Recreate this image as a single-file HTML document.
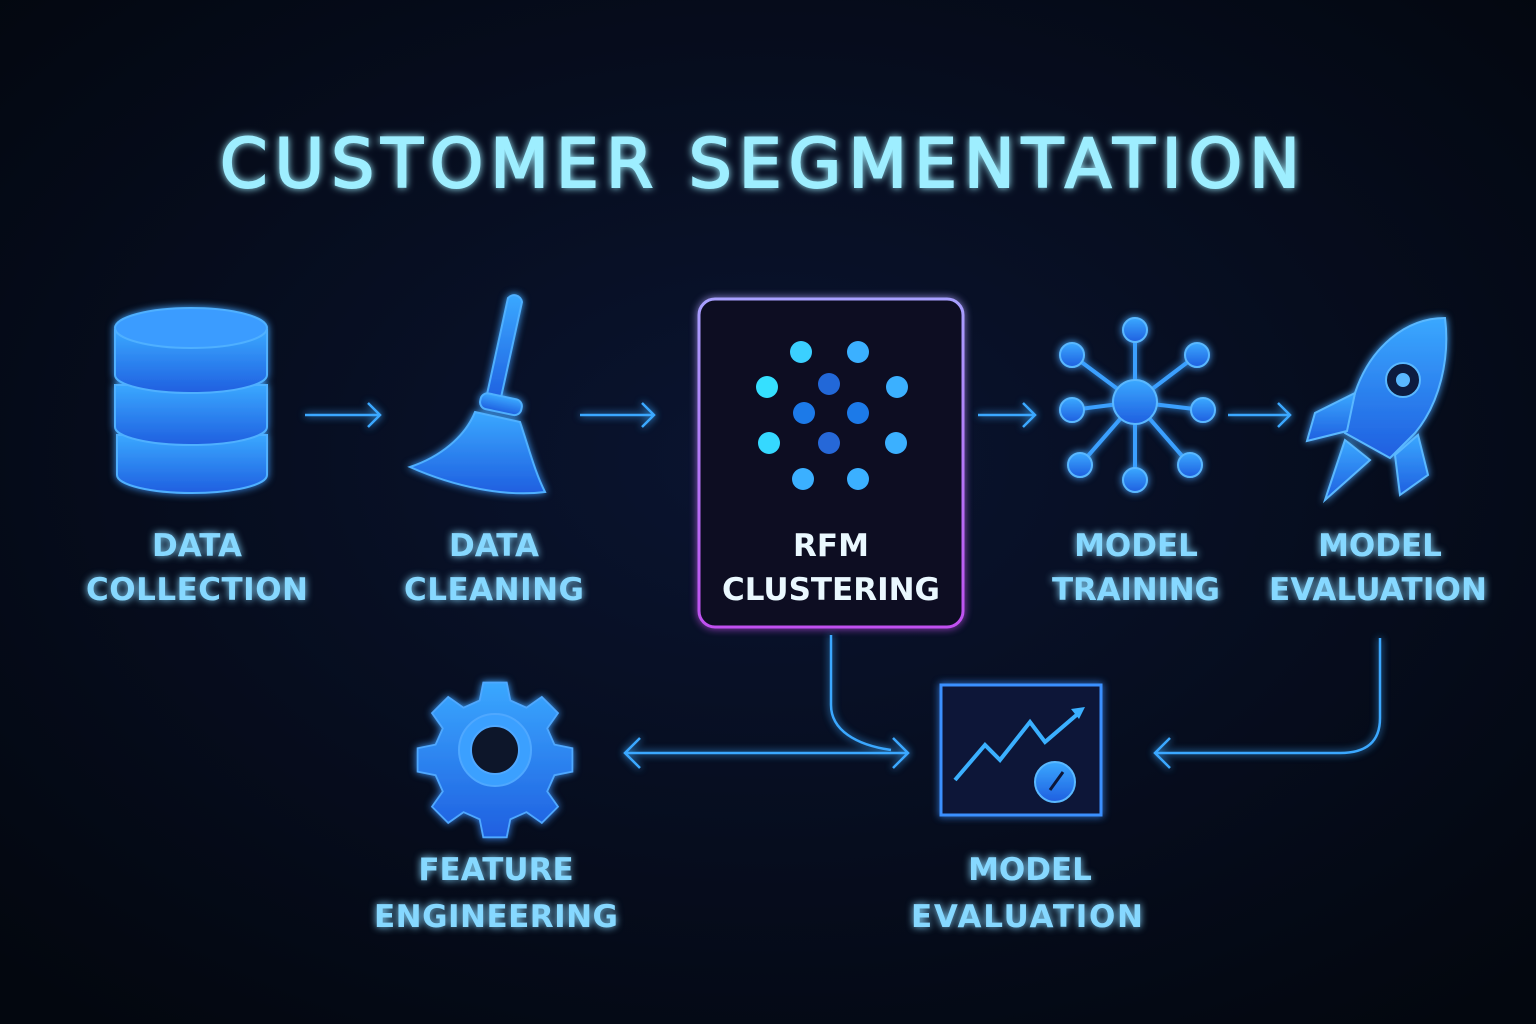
<!DOCTYPE html>
<html><head><meta charset="utf-8"><style>
html,body{margin:0;padding:0;background:#050a18;}
svg{display:block}
text{font-family:"DejaVu Sans","Liberation Sans",sans-serif;font-weight:bold;text-anchor:middle}
</style></head><body>
<svg width="1536" height="1024" viewBox="0 0 1536 1024" xmlns="http://www.w3.org/2000/svg">
<defs>
<radialGradient id="bg" cx="50%" cy="45%" r="70%"><stop offset="0" stop-color="#0a1430"/><stop offset="1" stop-color="#03070f"/></radialGradient>
<filter id="glow" x="-30%" y="-30%" width="160%" height="160%"><feGaussianBlur stdDeviation="4" result="b"/><feMerge><feMergeNode in="b"/><feMergeNode in="SourceGraphic"/></feMerge></filter>
<linearGradient id="box" x1="0" y1="0" x2="0" y2="1"><stop offset="0" stop-color="#a8a0ff"/><stop offset="1" stop-color="#c050f0"/></linearGradient>
<linearGradient id="ic" x1="0" y1="0" x2="0" y2="1"><stop offset="0" stop-color="#3aa8ff"/><stop offset="1" stop-color="#1f5fe0"/></linearGradient>
</defs>
<rect width="1536" height="1024" fill="url(#bg)"/>
<text x="760" y="187" font-size="68" fill="#9eeeff" textLength="1080" lengthAdjust="spacing" filter="url(#glow)" style="font-weight:normal" stroke="#9eeeff" stroke-width="2">CUSTOMER SEGMENTATION</text>

<g filter="url(#glow)">
<!-- database -->
<g fill="url(#ic)" stroke="#4fb0ff" stroke-width="2">
<path d="M117 435 v40 a75 18 0 0 0 150 0 v-40 z"/>
<path d="M115 385 v42 a76 18 0 0 0 152 0 v-42 z"/>
<path d="M115 330 v45 a76 18 0 0 0 152 0 v-45 z"/>
<ellipse cx="191" cy="328" rx="76" ry="20" fill="#3b9cff"/>
</g>
<!-- broom -->
<g fill="url(#ic)" stroke="#4fb0ff" stroke-width="2">
<path d="M508 298 a8 8 0 0 1 14 4 l-22 100 -14 -3 z"/>
<rect x="480" y="396" width="42" height="16" rx="7" transform="rotate(12 500 404)"/>
<path d="M475 412 l45 10 c10 30 15 50 25 70 c-40 5 -90 -5 -135 -25 c30 -10 55 -30 65 -55z"/>
</g>
<!-- RFM box -->
<rect x="699" y="299" width="264" height="328" rx="16" fill="#0c0a24" stroke="url(#box)" stroke-width="3"/>
<g fill="#3bb0ff">
<circle cx="801" cy="352" r="11" fill="#3ad0ff"/><circle cx="858" cy="352" r="11"/>
<circle cx="767" cy="387" r="11" fill="#35e0ff"/><circle cx="829" cy="384" r="11" fill="#2468d8"/><circle cx="897" cy="387" r="11"/>
<circle cx="804" cy="413" r="11" fill="#1e7ae8"/><circle cx="858" cy="413" r="11" fill="#1e7ae8"/>
<circle cx="769" cy="443" r="11" fill="#35d8ff"/><circle cx="829" cy="443" r="11" fill="#2868d8"/><circle cx="896" cy="443" r="11"/>
<circle cx="803" cy="479" r="11"/><circle cx="858" cy="479" r="11"/>
</g>
<!-- network -->
<g stroke="#3aa0ff" stroke-width="4">
<line x1="1135" y1="402" x2="1135" y2="332"/><line x1="1135" y1="402" x2="1072" y2="355"/><line x1="1135" y1="402" x2="1197" y2="355"/>
<line x1="1135" y1="402" x2="1072" y2="410"/><line x1="1135" y1="402" x2="1203" y2="410"/><line x1="1135" y1="402" x2="1080" y2="465"/>
<line x1="1135" y1="402" x2="1190" y2="465"/><line x1="1135" y1="402" x2="1135" y2="480"/>
</g>
<g fill="url(#ic)" stroke="#5ab8ff" stroke-width="2">
<circle cx="1135" cy="402" r="22"/><circle cx="1135" cy="330" r="12"/><circle cx="1072" cy="355" r="12"/><circle cx="1197" cy="355" r="12"/>
<circle cx="1072" cy="410" r="12"/><circle cx="1203" cy="410" r="12"/><circle cx="1080" cy="465" r="12"/><circle cx="1190" cy="465" r="12"/><circle cx="1135" cy="480" r="12"/>
</g>
<!-- rocket -->
<g fill="url(#ic)" stroke="#5ab8ff" stroke-width="2">
<path d="M1445 318 c-40 0 -75 30 -90 75 l-10 40 45 25 25 -25 c25 -30 35 -75 30 -115z"/>
<path d="M1355 393 l-40 20 -8 28 40 -10z"/>
<path d="M1395 455 l5 40 28 -20 -10 -40z"/>
<path d="M1345 440 l-20 60 45 -40z"/>
<circle cx="1403" cy="380" r="17" fill="#0a1a40"/><circle cx="1403" cy="380" r="6" fill="#5ab8ff"/>
</g>
<!-- gear -->
<g fill="url(#ic)" stroke="#4fa8ff" stroke-width="2">
<path d="M482 675 h26 l4 20 18 8 17 -12 18 18 -12 17 8 18 20 4 v26 l-20 4 -8 18 12 17 -18 18 -17 -12 -18 8 -4 20 h-26 l-4 -20 -18 -8 -17 12 -18 -18 12 -17 -8 -18 -20 -4 v-26 l20 -4 8 -18 -12 -17 18 -18 17 12 18 -8z" transform="translate(495 750) scale(0.9) translate(-495 -750)"/>
<circle cx="495" cy="750" r="36" fill="#3aa0ff"/>
<circle cx="495" cy="750" r="24" fill="#08122c"/>
</g>
<!-- chart -->
<rect x="941" y="685" width="160" height="130" fill="#0a1838" stroke="#3a90ff" stroke-width="3"/>
<polyline points="955,780 985,745 1000,760 1030,722 1045,742 1080,712" fill="none" stroke="#3ab0ff" stroke-width="4"/>
<path d="M1085 707 l-14 2 8 10z" fill="#3ab0ff"/>
<circle cx="1055" cy="782" r="20" fill="url(#ic)" stroke="#5ab8ff" stroke-width="2"/>
<line x1="1050" y1="790" x2="1063" y2="772" stroke="#0a1838" stroke-width="3"/>
</g>

<!-- arrows -->
<g stroke="#3aa8ff" stroke-width="2.5" fill="none" filter="url(#glow)">
<path d="M305 415 h75 M368 403 l12 12 -12 12"/>
<path d="M580 415 h74 M642 403 l12 12 -12 12"/>
<path d="M978 415 h57 M1023 403 l12 12 -12 12"/>
<path d="M1228 415 h62 M1278 403 l12 12 -12 12"/>
<path d="M625 753 h283 M640 738 l-15 15 15 15 M893 738 l15 15 -15 15"/>
<path d="M831 635 v70 c0 25 25 40 60 45"/>
<path d="M1380 638 v80 c0 25 -15 35 -40 35 h-185 M1170 738 l-15 15 15 15"/>
</g>

<!-- labels -->
<g font-size="31" fill="#86d8ff" filter="url(#glow)">
<text x="197" y="556">DATA</text><text x="197" y="600" textLength="222">COLLECTION</text>
<text x="494" y="556">DATA</text><text x="494" y="600" textLength="180">CLEANING</text>
<text x="1136" y="556">MODEL</text><text x="1136" y="600" textLength="168">TRAINING</text>
<text x="1380" y="556">MODEL</text><text x="1378" y="600" textLength="218">EVALUATION</text>
<text x="496" y="880">FEATURE</text><text x="496" y="927" textLength="244">ENGINEERING</text>
<text x="1030" y="880">MODEL</text><text x="1027" y="927" textLength="232">EVALUATION</text>
</g>
<g font-size="31" fill="#eaf8ff">
<text x="831" y="556">RFM</text><text x="831" y="600" textLength="218">CLUSTERING</text>
</g>
</svg>
</body></html>
